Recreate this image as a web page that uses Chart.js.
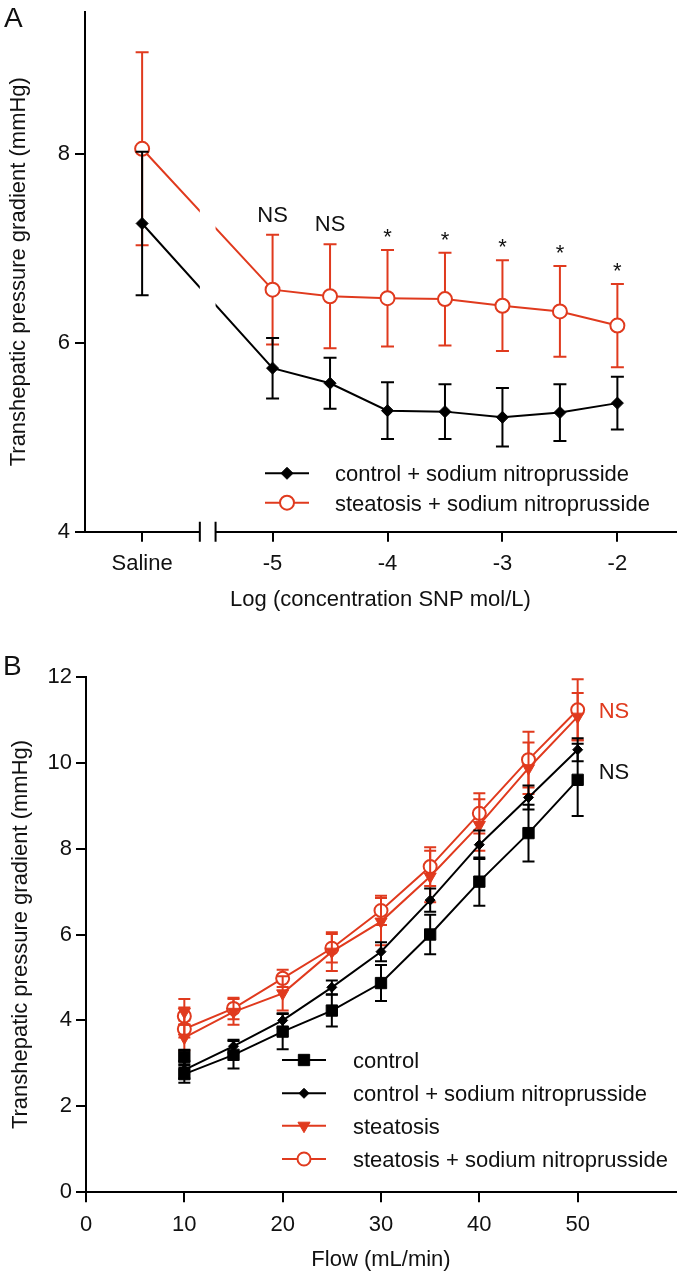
<!DOCTYPE html>
<html><head><meta charset="utf-8">
<script src="https://cdn.jsdelivr.net/npm/chart.js@4.4.0/dist/chart.umd.min.js"></script>
<style>
html,body{margin:0;padding:0;background:#fff;}
canvas{display:block;}
</style></head><body>
<canvas id="chartA" width="685" height="640"></canvas>
<canvas id="chartB" width="685" height="637"></canvas>
<script>
// ---------- Panel A data ----------
const SALINE_X = -6.135;
const concX = [-5, -4.5, -4, -3.5, -3, -2.5, -2];
const xPosA = [SALINE_X, ...concX];
const ctrlSnpA    = [7.26, 5.73, 5.57, 5.28, 5.27, 5.21, 5.26, 5.36];
const ctrlSnpErrA = [0.76, 0.32, 0.27, 0.30, 0.29, 0.31, 0.30, 0.28];
const steaSnpA    = [8.05, 6.56, 6.49, 6.47, 6.46, 6.39, 6.33, 6.18];
const steaSnpErrA = [1.02, 0.58, 0.55, 0.51, 0.49, 0.48, 0.48, 0.44];
const sigLabelsA  = ['NS', 'NS', '*', '*', '*', '*', '*'];
const xTickValsA   = [SALINE_X, -5, -4, -3, -2];
const xTickLabelsA = ['Saline', '-5', '-4', '-3', '-2'];
const yTicksA = [4, 6, 8];
const breakA = [-5.633, -5.496];

// ---------- Panel B data ----------
const flow        = [10, 10, 15, 20, 25, 30, 35, 40, 45, 50];
const ctrlB       = [3.15, 2.75, 3.20, 3.74, 4.23, 4.87, 6.00, 7.23, 8.36, 9.60];
const ctrlErrB    = [0.17, 0.20, 0.32, 0.41, 0.37, 0.42, 0.46, 0.56, 0.66, 0.84];
const ctrlSnpB    = [3.10, 2.85, 3.40, 4.00, 4.77, 5.60, 6.80, 8.09, 9.19, 10.30];
const ctrlSnpErrB = [0.20, 0.20, 0.15, 0.17, 0.16, 0.22, 0.27, 0.33, 0.28, 0.27];
const steaB       = [4.20, 3.60, 4.20, 4.63, 5.60, 6.30, 7.35, 8.55, 9.87, 11.07];
const steaErrB    = [0.30, 0.30, 0.30, 0.40, 0.45, 0.55, 0.60, 0.60, 0.60, 0.55];
const steaSnpB    = [4.10, 3.80, 4.28, 4.98, 5.68, 6.56, 7.58, 8.82, 10.07, 11.23];
const steaSnpErrB = [0.20, 0.20, 0.25, 0.20, 0.33, 0.34, 0.45, 0.47, 0.65, 0.71];
const xTicksB = [0, 10, 20, 30, 40, 50];
const yTicksB = [0, 2, 4, 6, 8, 10, 12];

// ---------- styling ----------
const RED = '#e03a1e';
const BLACK = '#000';
const FONT = "'Liberation Sans', Arial, Helvetica, sans-serif";
Chart.defaults.font.family = FONT;
Chart.defaults.font.size = 22;
Chart.defaults.color = '#111';

const pts = (xs, ys) => xs.map((x, i) => ({x, y: ys[i]}));

const errorBarPlugin = {
  id: 'errorBars',
  beforeDatasetDraw(chart, args, opts) {
    const ds = chart.data.datasets[args.index];
    if (!ds.errors) return;
    const {ctx} = chart;
    const xs = chart.scales.x, ys = chart.scales.y;
    const cap = opts.capHalf || 6;
    ctx.save();
    ctx.strokeStyle = ds.borderColor;
    ctx.lineWidth = 2;
    ds.data.forEach((p, i) => {
      const e = ds.errors[i];
      const px = xs.getPixelForValue(p.x);
      const yT = ys.getPixelForValue(p.y + e), yB = ys.getPixelForValue(p.y - e);
      ctx.beginPath();
      ctx.moveTo(px, yT); ctx.lineTo(px, yB);
      ctx.moveTo(px - cap, yT); ctx.lineTo(px + cap, yT);
      ctx.moveTo(px - cap, yB); ctx.lineTo(px + cap, yB);
      ctx.stroke();
    });
    ctx.restore();
  }
};

const legendPlugin = {
  id: 'inLegend',
  afterDraw(chart, args, opts) {
    const ctx = chart.ctx;
    ctx.save();
    chart.data.datasets.forEach((ds, i) => {
      const yy = opts.rows[i];
      ctx.strokeStyle = ds.borderColor; ctx.lineWidth = 2;
      ctx.beginPath(); ctx.moveTo(opts.x0, yy); ctx.lineTo(opts.x1, yy); ctx.stroke();
      ctx.fillStyle = ds.pointBackgroundColor;
      ctx.strokeStyle = ds.borderColor;
      ctx.lineWidth = ds.pointBorderWidth;
      Chart.helpers.drawPoint(ctx, {pointStyle: ds.pointStyle, radius: ds.pointRadius,
        rotation: ds.pointRotation || 0, borderWidth: ds.pointBorderWidth}, (opts.x0 + opts.x1) / 2, yy);
      ctx.fillStyle = '#111';
      ctx.font = '22px ' + FONT;
      ctx.textAlign = 'left'; ctx.textBaseline = 'alphabetic';
      ctx.fillText(ds.label, opts.tx, yy + 8);
    });
    ctx.restore();
  }
};

const panelLabelPlugin = {
  id: 'panelLabel',
  afterDraw(chart, args, opts) {
    const ctx = chart.ctx;
    ctx.save();
    ctx.fillStyle = '#111';
    ctx.font = '28px ' + FONT;
    ctx.textAlign = 'left'; ctx.textBaseline = 'alphabetic';
    ctx.fillText(opts.text, opts.x, opts.y);
    ctx.restore();
  }
};

// axis break + significance marks for panel A
const breakPlugin = {
  id: 'axisBreak',
  afterDatasetsDraw(chart) {
    const {ctx, chartArea} = chart;
    const xs = chart.scales.x, ys = chart.scales.y;
    const xa = xs.getPixelForValue(breakA[0]), xb = xs.getPixelForValue(breakA[1]);
    ctx.save();
    ctx.fillStyle = '#fff';
    ctx.fillRect(xa, chartArea.top, xb - xa, chartArea.bottom - chartArea.top + 2);
    ctx.strokeStyle = '#000'; ctx.lineWidth = 2;
    ctx.beginPath();
    ctx.moveTo(xa, chartArea.bottom - 10); ctx.lineTo(xa, chartArea.bottom + 10);
    ctx.moveTo(xb, chartArea.bottom - 10); ctx.lineTo(xb, chartArea.bottom + 10);
    ctx.stroke();
    // significance labels above steatosis error bars
    ctx.fillStyle = '#111';
    ctx.font = '22px ' + FONT;
    ctx.textAlign = 'center'; ctx.textBaseline = 'alphabetic';
    concX.forEach((cx, i) => {
      const top = ys.getPixelForValue(steaSnpA[i + 1] + steaSnpErrA[i + 1]);
      const lab = sigLabelsA[i];
      ctx.fillText(lab, xs.getPixelForValue(cx), top - (lab === '*' ? 6 : 13));
    });
    ctx.restore();
  }
};

const sigPluginB = {
  id: 'sigB',
  afterDatasetsDraw(chart) {
    const {ctx} = chart;
    const xs = chart.scales.x, ys = chart.scales.y;
    const n = flow.length - 1;
    const x = xs.getPixelForValue(flow[n]) + 21;
    ctx.save();
    ctx.font = '22px ' + FONT;
    ctx.textAlign = 'left'; ctx.textBaseline = 'alphabetic';
    ctx.fillStyle = RED;
    ctx.fillText('NS', x, ys.getPixelForValue(steaSnpB[n]) + 8);
    ctx.fillStyle = '#111';
    ctx.fillText('NS', x, ys.getPixelForValue((ctrlB[n] + ctrlSnpB[n]) / 2) + 14);
    ctx.restore();
  }
};

function axisCommon(tickVals, afterFit, extra) {
  return Object.assign({
    type: 'linear',
    afterBuildTicks: s => { s.ticks = tickVals.map(v => ({value: v})); },
    grid: {drawOnChartArea: false, drawTicks: true, tickLength: 10, lineWidth: 2, tickWidth: 2, color: '#000'},
    border: {display: true, color: '#000', width: 2},
    afterFit: afterFit
  }, extra);
}

// ---------- Chart A ----------
new Chart(document.getElementById('chartA'), {
  type: 'line',
  data: {
    datasets: [
      {label: 'control + sodium nitroprusside', data: pts(xPosA, ctrlSnpA), errors: ctrlSnpErrA,
       borderColor: BLACK, borderWidth: 2, pointStyle: 'rectRot', pointRadius: 6,
       pointBackgroundColor: BLACK, pointBorderColor: BLACK, pointBorderWidth: 1},
      {label: 'steatosis + sodium nitroprusside', data: pts(xPosA, steaSnpA), errors: steaSnpErrA,
       borderColor: RED, borderWidth: 2, pointStyle: 'circle', pointRadius: 7,
       pointBackgroundColor: '#fff', pointBorderColor: RED, pointBorderWidth: 2}
    ]
  },
  options: {
    responsive: false, animation: false, devicePixelRatio: 1,
    layout: {padding: {top: 11.7, right: 2, left: 0, bottom: 0}},
    plugins: {
      legend: {display: false}, tooltip: {enabled: false},
      errorBars: {capHalf: 6.5},
      inLegend: {x0: 265, x1: 309, tx: 335, rows: [473.3, 502.7]},
      panelLabel: {text: 'A', x: 4, y: 27}
    },
    scales: {
      x: axisCommon(xTickValsA, s => { s.height = 108.3; s.paddingLeft = 0; s.paddingRight = 0; }, {
        min: -6.632, max: -1.49,
        ticks: {autoSkip: false, maxRotation: 0, padding: 9, callback: (v, i) => xTickLabelsA[i]},
        title: {display: true, text: 'Log (concentration SNP mol/L)', font: {size: 22}, padding: {top: 0, bottom: 26.8}, color: '#111'}
      }),
      y: axisCommon(yTicksA, s => { s.width = 85; s.paddingTop = 0; s.paddingBottom = 0; }, {
        min: 4, max: 9.5,
        ticks: {padding: 5},
        title: {display: true, text: 'Transhepatic pressure gradient (mmHg)', font: {size: 22}, padding: {top: 6, bottom: 0}, color: '#111'}
      })
    }
  },
  plugins: [errorBarPlugin, breakPlugin, legendPlugin, panelLabelPlugin]
});

// ---------- Chart B ----------
new Chart(document.getElementById('chartB'), {
  type: 'line',
  data: {
    datasets: [
      {label: 'control', data: pts(flow, ctrlB), errors: ctrlErrB,
       borderColor: BLACK, borderWidth: 2, pointStyle: 'rect', pointRadius: 8,
       pointBackgroundColor: BLACK, pointBorderColor: BLACK, pointBorderWidth: 1},
      {label: 'control + sodium nitroprusside', data: pts(flow, ctrlSnpB), errors: ctrlSnpErrB,
       borderColor: BLACK, borderWidth: 2, pointStyle: 'rectRot', pointRadius: 5,
       pointBackgroundColor: BLACK, pointBorderColor: BLACK, pointBorderWidth: 1},
      {label: 'steatosis', data: pts(flow, steaB), errors: steaErrB,
       borderColor: RED, borderWidth: 2, pointStyle: 'triangle', pointRotation: 180, pointRadius: 7,
       pointBackgroundColor: RED, pointBorderColor: RED, pointBorderWidth: 1},
      {label: 'steatosis + sodium nitroprusside', data: pts(flow, steaSnpB), errors: steaSnpErrB,
       borderColor: RED, borderWidth: 2, pointStyle: 'circle', pointRadius: 6.5,
       pointBackgroundColor: '#fff', pointBorderColor: RED, pointBorderWidth: 2}
    ]
  },
  options: {
    responsive: false, animation: false, devicePixelRatio: 1,
    layout: {padding: {top: 36.7, right: 7.2, left: 0, bottom: 0}},
    plugins: {
      legend: {display: false}, tooltip: {enabled: false},
      errorBars: {capHalf: 6},
      inLegend: {x0: 282, x1: 326, tx: 353, rows: [420, 453.3, 485.7, 519]},
      panelLabel: {text: 'B', x: 3, y: 35}
    },
    scales: {
      x: axisCommon(xTicksB, s => { s.height = 84.7; s.paddingLeft = 0; s.paddingRight = 0; }, {
        min: 0, max: 60,
        ticks: {autoSkip: false, maxRotation: 0, padding: 9},
        title: {display: true, text: 'Flow (mL/min)', font: {size: 22}, padding: {top: 0, bottom: 3.8}, color: '#111'}
      }),
      y: axisCommon(yTicksB, s => { s.width = 86; s.paddingTop = 0; s.paddingBottom = 0; }, {
        min: 0, max: 12,
        ticks: {padding: 4},
        title: {display: true, text: 'Transhepatic pressure gradient (mmHg)', font: {size: 22}, padding: {top: 7.8, bottom: 0}, color: '#111'}
      })
    }
  },
  plugins: [errorBarPlugin, sigPluginB, legendPlugin, panelLabelPlugin]
});
</script>
</body></html>
